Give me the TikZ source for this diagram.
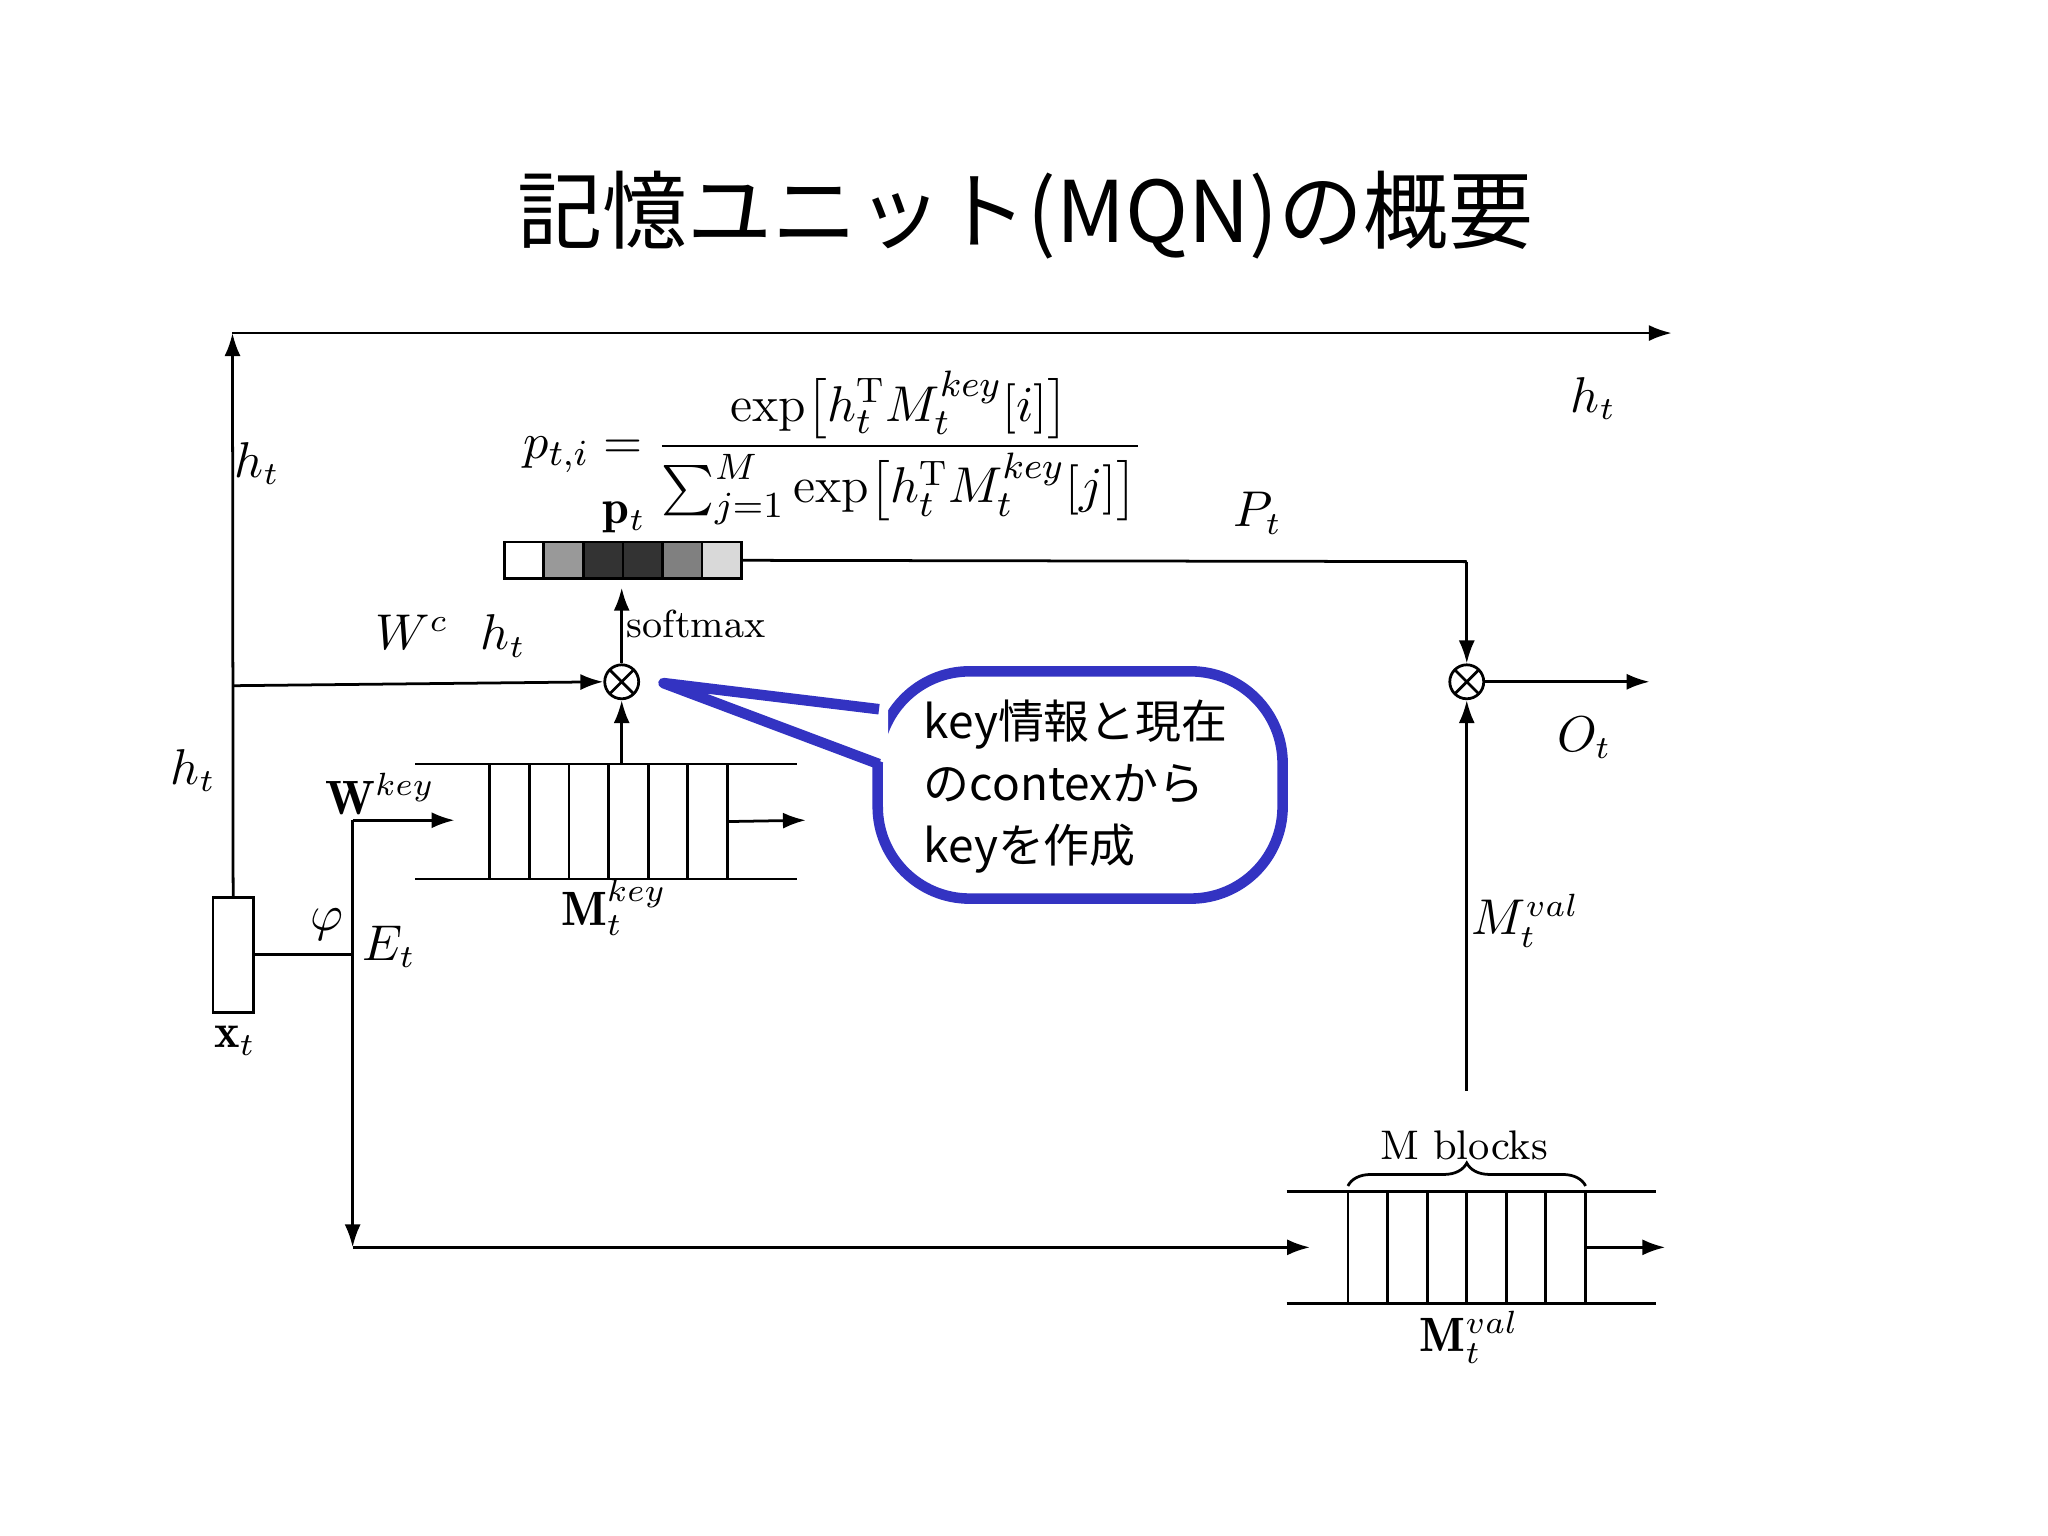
\documentclass[tikz,border=0pt]{standalone}
\usepackage{fontspec}
\usepackage{amsmath}
\newfontfamily\cjk{Noto Sans CJK JP}
\usetikzlibrary{arrows.meta,decorations.pathreplacing}
\begin{document}
\begin{tikzpicture}[x=0.01cm,y=-0.01cm,
  ln/.style={line width=0.6pt},
  arr/.style={ln,-{Latex[length=5pt,width=3.5pt]}},
  lab/.style={font=\fontsize{10.5}{12}\selectfont},
  cell/.style={draw,ln,minimum width=30.3*0.01cm,minimum height=88*0.01cm,inner sep=0pt},
  pcell/.style={draw,ln,minimum width=30.3*0.01cm,minimum height=28*0.01cm,inner sep=0pt},
  otimesn/.style={circle,draw,ln,minimum size=26*0.01cm,inner sep=0pt,path picture={\draw[ln] (path picture bounding box.south west)--(path picture bounding box.north east) (path picture bounding box.north west)--(path picture bounding box.south east);}}]
\useasboundingbox (0,0) rectangle (1568,1176);
\node[font=\cjk\fontsize{18.5}{22}\selectfont] (title) at (785,165) {記憶ユニット(MQN)の概要};
% x_t box
\node[draw,ln,minimum width=31*0.01cm,minimum height=88*0.01cm,inner sep=0pt] (x) at (178.5,731) {};
\node[lab] (xl) at (180,797) {$\mathbf{x}_t$};
\coordinate (top) at (178,255);
\coordinate (topr) at (1280,255);
\draw[arr] (x.north) -- (top);
\draw[arr] (top) -- (topr);
\coordinate (e) at (270,731);
\draw[ln] (x.east|-e) -- (e);
\coordinate (ew) at (270,628);
\coordinate (eb) at (270,955);
\draw[ln] (e) -- (ew);
\draw[arr] (e) -- (eb);
\coordinate (wk) at (348,628);
\draw[arr] (ew) -- (wk);
\node[lab] at (250,708) {$\varphi$};
\node[lab] at (298,725) {$E_t$};
\node[lab] at (291,608) {$\mathbf{W}^{key}$};
\node[lab] at (197,355) {$h_t$};
\node[lab] at (148,590) {$h_t$};
\node[lab] at (1220,305) {$h_t$};
% M key memory
\draw[ln] (318,585) -- (610,585) (318,673) -- (610,673);
\foreach \i in {0,...,5} \node[cell] (k\i) at (390.2+\i*30.3,629) {};
\coordinate (ko) at (617,628);
\draw[arr] (k5.east) -- (ko);
\node[lab] at (470,695) {$\mathbf{M}^{key}_t$};
% otimes1
\node[otimesn] (o1) at (476,522) {};
\coordinate (hl) at (178,525);
\draw[arr] (hl) -- (o1.west);
\node[lab] at (345,487) {$W^c\ \ h_t$};
\draw[arr] (476,585) -- (o1.south);
% p_t
\foreach \i/\c in {0/white,1/black!40,2/black!80,3/black!80,4/black!50,5/black!15}
  \node[pcell,fill=\c] (p\i) at (401.2+\i*30.3,429) {};
\draw[arr] (o1.north) -- (476,450);
\node[font=\fontsize{8.5}{10}\selectfont] at (533,478) {softmax};
\node[lab] at (478,396) {$\mathbf{p}_t$};
\coordinate (pc) at (1123,430);
\node[otimesn] (o2) at (1123,522) {};
\draw[ln] (p5.east) -- (pc);
\draw[arr] (pc) -- (o2.north);
\node[lab] at (963,393) {$P_t$};
\coordinate (oo) at (1263,522);
\draw[arr] (o2.east) -- (oo);
\node[lab] at (1213,565) {$O_t$};
\coordinate (vb) at (1123,835);
\draw[arr] (vb) -- (o2.south);
\node[lab] at (1168,705) {$M^{val}_t$};
% M val memory
\draw[ln] (985,912) -- (1268,912) (985,998) -- (1268,998);
\foreach \i in {0,...,5} \node[cell,minimum height=86*0.01cm] (v\i) at (1047.2+\i*30.3,955) {};
\coordinate (vin) at (1003,955);
\draw[arr] (eb) -- (vin);
\coordinate (vo) at (1275,955);
\draw[arr] (v5.east) -- (vo);
\draw[ln,decorate,decoration={brace,amplitude=5pt}] (1032,908) -- (1214,908);
\node[font=\fontsize{9}{11}\selectfont] at (1121,877) {M blocks};
\node[lab] at (1125,1024) {$\mathbf{M}^{val}_t$};
% formula
\node[font=\fontsize{11}{13}\selectfont] (f) at (638,343) {$p_{t,i}=\dfrac{\exp\bigl[h_t^{\mathrm T}M_t^{key}[i]\bigr]}{\sum_{j=1}^{M}\exp\bigl[h_t^{\mathrm T}M_t^{key}[j]\bigr]}$};
% callout
\coordinate (tip) at (508,523);
\draw[line width=2.3pt,draw=blue!70!black!80,fill=white,rounded corners=20pt] (672,514) rectangle (982,688);
\fill[white] (680,543) -- (tip) -- (680,585) -- cycle;
\draw[line width=2.3pt,draw=blue!70!black!80,line join=round] (673,543) -- (tip) -- (673,585);
\node[font=\cjk\fontsize{10}{13.5}\selectfont,align=left,anchor=west] (c) at (695,602) {key情報と現在\\のcontexから\\keyを作成};
\end{tikzpicture}
\end{document}
